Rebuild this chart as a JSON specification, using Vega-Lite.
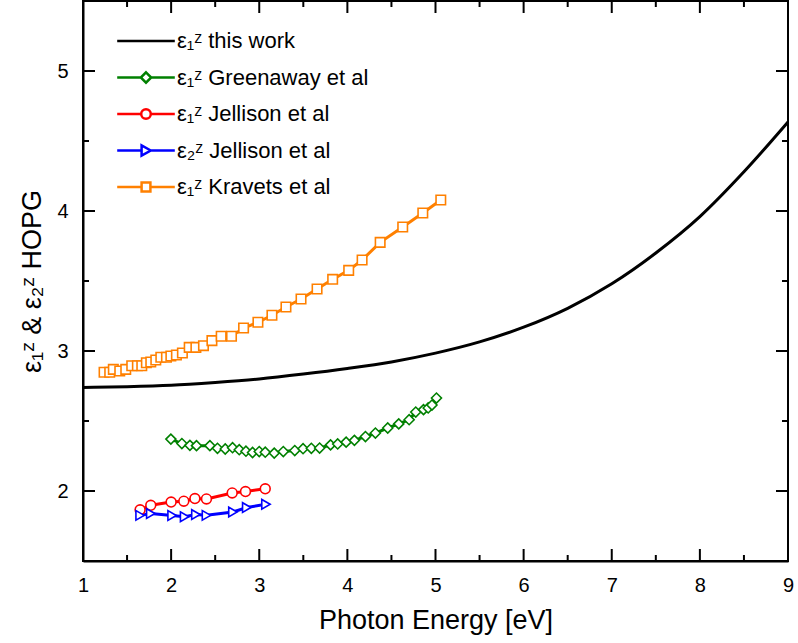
{
  "$schema": "https://vega.github.io/schema/vega-lite/v6.json",
  "width": 705,
  "height": 560,
  "autosize": {"type": "none"},
  "padding": {"left": 83, "top": 1, "right": 10, "bottom": 82},
  "background": "white",
  "config": {
    "view": {"stroke": "black", "strokeWidth": 2},
    "font": "Liberation Sans",
    "axis": {
      "domainColor": "black", "domainWidth": 2, "grid": false, "ticks": false,
      "labelColor": "black", "titleColor": "black", "labelFont": "Liberation Sans", "titleFont": "Liberation Sans",
      "labelFontSize": 20, "titleFontSize": 27, "titleFontWeight": "normal"
    },
    "legend": {"labelFont": "Liberation Sans", "labelFontSize": 22, "labelColor": "black", "labelLimit": 0}
  },
  "datasets": {
    "series": [
      {"series": "ε₁ᶻ this work", "x": 1.0, "y": 2.740},
      {"series": "ε₁ᶻ this work", "x": 1.5, "y": 2.745},
      {"series": "ε₁ᶻ this work", "x": 2.0, "y": 2.755},
      {"series": "ε₁ᶻ this work", "x": 2.5, "y": 2.775},
      {"series": "ε₁ᶻ this work", "x": 3.0, "y": 2.800},
      {"series": "ε₁ᶻ this work", "x": 3.5, "y": 2.835},
      {"series": "ε₁ᶻ this work", "x": 4.0, "y": 2.875},
      {"series": "ε₁ᶻ this work", "x": 4.5, "y": 2.922},
      {"series": "ε₁ᶻ this work", "x": 5.0, "y": 2.985},
      {"series": "ε₁ᶻ this work", "x": 5.5, "y": 3.065},
      {"series": "ε₁ᶻ this work", "x": 6.0, "y": 3.170},
      {"series": "ε₁ᶻ this work", "x": 6.5, "y": 3.305},
      {"series": "ε₁ᶻ this work", "x": 7.0, "y": 3.480},
      {"series": "ε₁ᶻ this work", "x": 7.5, "y": 3.700},
      {"series": "ε₁ᶻ this work", "x": 8.0, "y": 3.960},
      {"series": "ε₁ᶻ this work", "x": 8.5, "y": 4.280},
      {"series": "ε₁ᶻ this work", "x": 9.0, "y": 4.636},

      {"series": "ε₁ᶻ Greenaway et al", "x": 1.997, "y": 2.371},
      {"series": "ε₁ᶻ Greenaway et al", "x": 2.122, "y": 2.339},
      {"series": "ε₁ᶻ Greenaway et al", "x": 2.213, "y": 2.326},
      {"series": "ε₁ᶻ Greenaway et al", "x": 2.288, "y": 2.324},
      {"series": "ε₁ᶻ Greenaway et al", "x": 2.440, "y": 2.324},
      {"series": "ε₁ᶻ Greenaway et al", "x": 2.526, "y": 2.305},
      {"series": "ε₁ᶻ Greenaway et al", "x": 2.614, "y": 2.300},
      {"series": "ε₁ᶻ Greenaway et al", "x": 2.697, "y": 2.309},
      {"series": "ε₁ᶻ Greenaway et al", "x": 2.773, "y": 2.295},
      {"series": "ε₁ᶻ Greenaway et al", "x": 2.849, "y": 2.284},
      {"series": "ε₁ᶻ Greenaway et al", "x": 2.924, "y": 2.275},
      {"series": "ε₁ᶻ Greenaway et al", "x": 3.000, "y": 2.282},
      {"series": "ε₁ᶻ Greenaway et al", "x": 3.068, "y": 2.277},
      {"series": "ε₁ᶻ Greenaway et al", "x": 3.170, "y": 2.271},
      {"series": "ε₁ᶻ Greenaway et al", "x": 3.273, "y": 2.282},
      {"series": "ε₁ᶻ Greenaway et al", "x": 3.403, "y": 2.289},
      {"series": "ε₁ᶻ Greenaway et al", "x": 3.497, "y": 2.302},
      {"series": "ε₁ᶻ Greenaway et al", "x": 3.591, "y": 2.305},
      {"series": "ε₁ᶻ Greenaway et al", "x": 3.685, "y": 2.307},
      {"series": "ε₁ᶻ Greenaway et al", "x": 3.809, "y": 2.329},
      {"series": "ε₁ᶻ Greenaway et al", "x": 3.890, "y": 2.336},
      {"series": "ε₁ᶻ Greenaway et al", "x": 3.986, "y": 2.349},
      {"series": "ε₁ᶻ Greenaway et al", "x": 4.080, "y": 2.362},
      {"series": "ε₁ᶻ Greenaway et al", "x": 4.205, "y": 2.389},
      {"series": "ε₁ᶻ Greenaway et al", "x": 4.318, "y": 2.414},
      {"series": "ε₁ᶻ Greenaway et al", "x": 4.458, "y": 2.450},
      {"series": "ε₁ᶻ Greenaway et al", "x": 4.583, "y": 2.479},
      {"series": "ε₁ᶻ Greenaway et al", "x": 4.701, "y": 2.509},
      {"series": "ε₁ᶻ Greenaway et al", "x": 4.776, "y": 2.564},
      {"series": "ε₁ᶻ Greenaway et al", "x": 4.864, "y": 2.581},
      {"series": "ε₁ᶻ Greenaway et al", "x": 4.917, "y": 2.593},
      {"series": "ε₁ᶻ Greenaway et al", "x": 4.960, "y": 2.614},
      {"series": "ε₁ᶻ Greenaway et al", "x": 5.011, "y": 2.664},

      {"series": "ε₁ᶻ Jellison et al", "x": 1.648, "y": 1.866},
      {"series": "ε₁ᶻ Jellison et al", "x": 1.769, "y": 1.898},
      {"series": "ε₁ᶻ Jellison et al", "x": 2.000, "y": 1.921},
      {"series": "ε₁ᶻ Jellison et al", "x": 2.144, "y": 1.927},
      {"series": "ε₁ᶻ Jellison et al", "x": 2.270, "y": 1.946},
      {"series": "ε₁ᶻ Jellison et al", "x": 2.401, "y": 1.943},
      {"series": "ε₁ᶻ Jellison et al", "x": 2.693, "y": 1.986},
      {"series": "ε₁ᶻ Jellison et al", "x": 2.844, "y": 1.996},
      {"series": "ε₁ᶻ Jellison et al", "x": 3.068, "y": 2.016},

      {"series": "ε₂ᶻ Jellison et al", "x": 1.648, "y": 1.826},
      {"series": "ε₂ᶻ Jellison et al", "x": 1.769, "y": 1.839},
      {"series": "ε₂ᶻ Jellison et al", "x": 2.011, "y": 1.825},
      {"series": "ε₂ᶻ Jellison et al", "x": 2.153, "y": 1.816},
      {"series": "ε₂ᶻ Jellison et al", "x": 2.281, "y": 1.832},
      {"series": "ε₂ᶻ Jellison et al", "x": 2.401, "y": 1.826},
      {"series": "ε₂ᶻ Jellison et al", "x": 2.701, "y": 1.850},
      {"series": "ε₂ᶻ Jellison et al", "x": 2.858, "y": 1.882},
      {"series": "ε₂ᶻ Jellison et al", "x": 3.076, "y": 1.905},

      {"series": "ε₁ᶻ Kravets et al", "x": 1.239, "y": 2.848},
      {"series": "ε₁ᶻ Kravets et al", "x": 1.303, "y": 2.848},
      {"series": "ε₁ᶻ Kravets et al", "x": 1.344, "y": 2.869},
      {"series": "ε₁ᶻ Kravets et al", "x": 1.417, "y": 2.857},
      {"series": "ε₁ᶻ Kravets et al", "x": 1.485, "y": 2.869},
      {"series": "ε₁ᶻ Kravets et al", "x": 1.553, "y": 2.895},
      {"series": "ε₁ᶻ Kravets et al", "x": 1.617, "y": 2.895},
      {"series": "ε₁ᶻ Kravets et al", "x": 1.667, "y": 2.895},
      {"series": "ε₁ᶻ Kravets et al", "x": 1.719, "y": 2.916},
      {"series": "ε₁ᶻ Kravets et al", "x": 1.769, "y": 2.921},
      {"series": "ε₁ᶻ Kravets et al", "x": 1.826, "y": 2.936},
      {"series": "ε₁ᶻ Kravets et al", "x": 1.883, "y": 2.955},
      {"series": "ε₁ᶻ Kravets et al", "x": 1.947, "y": 2.955},
      {"series": "ε₁ᶻ Kravets et al", "x": 1.997, "y": 2.964},
      {"series": "ε₁ᶻ Kravets et al", "x": 2.060, "y": 2.971},
      {"series": "ε₁ᶻ Kravets et al", "x": 2.128, "y": 2.986},
      {"series": "ε₁ᶻ Kravets et al", "x": 2.205, "y": 3.026},
      {"series": "ε₁ᶻ Kravets et al", "x": 2.281, "y": 3.026},
      {"series": "ε₁ᶻ Kravets et al", "x": 2.367, "y": 3.038},
      {"series": "ε₁ᶻ Kravets et al", "x": 2.463, "y": 3.074},
      {"series": "ε₁ᶻ Kravets et al", "x": 2.568, "y": 3.105},
      {"series": "ε₁ᶻ Kravets et al", "x": 2.685, "y": 3.105},
      {"series": "ε₁ᶻ Kravets et al", "x": 2.822, "y": 3.164},
      {"series": "ε₁ᶻ Kravets et al", "x": 2.985, "y": 3.205},
      {"series": "ε₁ᶻ Kravets et al", "x": 3.144, "y": 3.255},
      {"series": "ε₁ᶻ Kravets et al", "x": 3.303, "y": 3.314},
      {"series": "ε₁ᶻ Kravets et al", "x": 3.474, "y": 3.371},
      {"series": "ε₁ᶻ Kravets et al", "x": 3.656, "y": 3.443},
      {"series": "ε₁ᶻ Kravets et al", "x": 3.833, "y": 3.512},
      {"series": "ε₁ᶻ Kravets et al", "x": 4.015, "y": 3.576},
      {"series": "ε₁ᶻ Kravets et al", "x": 4.167, "y": 3.650},
      {"series": "ε₁ᶻ Kravets et al", "x": 4.372, "y": 3.776},
      {"series": "ε₁ᶻ Kravets et al", "x": 4.628, "y": 3.886},
      {"series": "ε₁ᶻ Kravets et al", "x": 4.856, "y": 3.986},
      {"series": "ε₁ᶻ Kravets et al", "x": 5.060, "y": 4.079}
    ],
    "xticks": [
      {"v": 1.5, "kind": "minor"}, {"v": 2, "kind": "major"}, {"v": 2.5, "kind": "minor"}, {"v": 3, "kind": "major"},
      {"v": 3.5, "kind": "minor"}, {"v": 4, "kind": "major"}, {"v": 4.5, "kind": "minor"}, {"v": 5, "kind": "major"},
      {"v": 5.5, "kind": "minor"}, {"v": 6, "kind": "major"}, {"v": 6.5, "kind": "minor"}, {"v": 7, "kind": "major"},
      {"v": 7.5, "kind": "minor"}, {"v": 8, "kind": "major"}, {"v": 8.5, "kind": "minor"}
    ],
    "yticks": [
      {"v": 2, "kind": "major"}, {"v": 2.5, "kind": "minor"}, {"v": 3, "kind": "major"}, {"v": 3.5, "kind": "minor"},
      {"v": 4, "kind": "major"}, {"v": 4.5, "kind": "minor"}, {"v": 5, "kind": "major"}
    ]
  },
  "layer": [
    {
      "data": {"name": "series"},
      "transform": [{"filter": "datum.series === 'ε₁ᶻ this work'"}],
      "mark": {"type": "line", "strokeWidth": 3, "interpolate": "monotone"},
      "encoding": {
        "x": {"field": "x", "type": "quantitative", "scale": {"domain": [1, 9], "nice": false, "zero": false},
          "axis": {"orient": "bottom", "values": [1,2,3,4,5,6,7,8,9], "labelPadding": 14, "title": "Photon Energy [eV]", "titlePadding": 12, "format": "d", "labelFlush": false}},
        "y": {"field": "y", "type": "quantitative", "scale": {"domain": [1.5, 5.5], "nice": false, "zero": false},
          "axis": {"orient": "left", "values": [2,3,4,5], "labelPadding": 15, "title": "ε₁ᶻ & ε₂ᶻ HOPG", "titlePadding": 10, "format": "d", "labelFlush": false}},
        "color": {"field": "series", "type": "nominal",
          "scale": {"domain": ["ε₁ᶻ this work", "ε₁ᶻ Greenaway et al", "ε₁ᶻ Jellison et al", "ε₂ᶻ Jellison et al", "ε₁ᶻ Kravets et al"],
                    "range": ["#000000", "#008000", "#FF0000", "#0000FF", "#FF8000"]},
          "legend": {"title": null, "orient": "none", "legendX": 52, "legendY": 29, "padding": 0, "symbolSize": 64, "rowPadding": 14.5, "labelOffset": 20, "symbolStrokeWidth": 2,
            "encode": {"symbols": {"update": {
              "shape": {"signal": "datum.value === 'ε₁ᶻ this work' ? 'M-7.2,0H7.2' : datum.value === 'ε₁ᶻ Greenaway et al' ? 'M-7.2,0H-1.3M1.3,0H7.2M0,-1.3L1.3,0L0,1.3L-1.3,0Z' : datum.value === 'ε₁ᶻ Jellison et al' ? 'M-7.2,0H-1.2M1.2,0H7.2M1.2,0A1.2,1.2,0,1,1,-1.2,0A1.2,1.2,0,1,1,1.2,0Z' : datum.value === 'ε₂ᶻ Jellison et al' ? 'M-7.2,0H-1.1M1.2,0H7.2M1.2,0L-1.1,-1.3L-1.1,1.3Z' : 'M-7.2,0H-1.1M1.1,0H7.2M-1.1,-1.1H1.1V1.1H-1.1Z'"},
              "fill": {"value": "white"},
              "fillOpacity": {"value": 1},
              "opacity": {"value": 1},
              "strokeWidth": {"value": 2.5}
            }}}}
        }
      }
    },
    {
      "data": {"name": "series"},
      "transform": [{"filter": "datum.series !== 'ε₁ᶻ this work'"}],
      "mark": {"type": "line", "strokeWidth": 3},
      "encoding": {
        "x": {"field": "x", "type": "quantitative"},
        "y": {"field": "y", "type": "quantitative"},
        "color": {"field": "series", "type": "nominal"}
      }
    },
    {
      "data": {"name": "series"},
      "transform": [{"filter": "datum.series !== 'ε₁ᶻ this work'"}],
      "mark": {"type": "point", "filled": false, "fill": "white", "fillOpacity": 1, "opacity": 1, "strokeWidth": 1.6},
      "encoding": {
        "x": {"field": "x", "type": "quantitative"},
        "y": {"field": "y", "type": "quantitative"},
        "color": {"field": "series", "type": "nominal"},
        "shape": {"field": "series", "type": "nominal",
          "scale": {"domain": ["ε₁ᶻ Greenaway et al", "ε₁ᶻ Jellison et al", "ε₂ᶻ Jellison et al", "ε₁ᶻ Kravets et al"],
                    "range": ["diamond", "circle", "triangle-right", "square"]},
          "legend": null},
        "size": {"field": "series", "type": "nominal",
          "scale": {"domain": ["ε₁ᶻ Greenaway et al", "ε₁ᶻ Jellison et al", "ε₂ᶻ Jellison et al", "ε₁ᶻ Kravets et al"],
                    "range": [100, 90, 90, 81]},
          "legend": null}
      }
    },
    {
      "data": {"name": "xticks"},
      "transform": [{"filter": "datum.kind === 'major'"}],
      "mark": {"type": "tick", "orient": "vertical", "color": "black", "thickness": 2, "clip": true, "opacity": 1, "size": 24},
      "encoding": {"x": {"field": "v", "type": "quantitative"}, "y": {"datum": 1.5, "type": "quantitative"}, "size": {"value": 24}}
    },
    {
      "data": {"name": "xticks"},
      "transform": [{"filter": "datum.kind === 'minor'"}],
      "mark": {"type": "tick", "orient": "vertical", "color": "black", "thickness": 2, "clip": true, "opacity": 1, "size": 12},
      "encoding": {"x": {"field": "v", "type": "quantitative"}, "y": {"datum": 1.5, "type": "quantitative"}, "size": {"value": 12}}
    },
    {
      "data": {"name": "xticks"},
      "transform": [{"filter": "datum.kind === 'major'"}],
      "mark": {"type": "tick", "orient": "vertical", "color": "black", "thickness": 2, "clip": true, "opacity": 1, "size": 24},
      "encoding": {"x": {"field": "v", "type": "quantitative"}, "y": {"datum": 5.5, "type": "quantitative"}, "size": {"value": 24}}
    },
    {
      "data": {"name": "xticks"},
      "transform": [{"filter": "datum.kind === 'minor'"}],
      "mark": {"type": "tick", "orient": "vertical", "color": "black", "thickness": 2, "clip": true, "opacity": 1, "size": 12},
      "encoding": {"x": {"field": "v", "type": "quantitative"}, "y": {"datum": 5.5, "type": "quantitative"}, "size": {"value": 12}}
    },
    {
      "data": {"name": "yticks"},
      "transform": [{"filter": "datum.kind === 'major'"}],
      "mark": {"type": "tick", "orient": "horizontal", "color": "black", "thickness": 2, "clip": true, "opacity": 1, "size": 24},
      "encoding": {"y": {"field": "v", "type": "quantitative"}, "x": {"datum": 1, "type": "quantitative"}, "size": {"value": 24}}
    },
    {
      "data": {"name": "yticks"},
      "transform": [{"filter": "datum.kind === 'minor'"}],
      "mark": {"type": "tick", "orient": "horizontal", "color": "black", "thickness": 2, "clip": true, "opacity": 1, "size": 12},
      "encoding": {"y": {"field": "v", "type": "quantitative"}, "x": {"datum": 1, "type": "quantitative"}, "size": {"value": 12}}
    },
    {
      "data": {"name": "yticks"},
      "transform": [{"filter": "datum.kind === 'major'"}],
      "mark": {"type": "tick", "orient": "horizontal", "color": "black", "thickness": 2, "clip": true, "opacity": 1, "size": 24},
      "encoding": {"y": {"field": "v", "type": "quantitative"}, "x": {"datum": 9, "type": "quantitative"}, "size": {"value": 24}}
    },
    {
      "data": {"name": "yticks"},
      "transform": [{"filter": "datum.kind === 'minor'"}],
      "mark": {"type": "tick", "orient": "horizontal", "color": "black", "thickness": 2, "clip": true, "opacity": 1, "size": 12},
      "encoding": {"y": {"field": "v", "type": "quantitative"}, "x": {"datum": 9, "type": "quantitative"}, "size": {"value": 12}}
    }
  ]
}
